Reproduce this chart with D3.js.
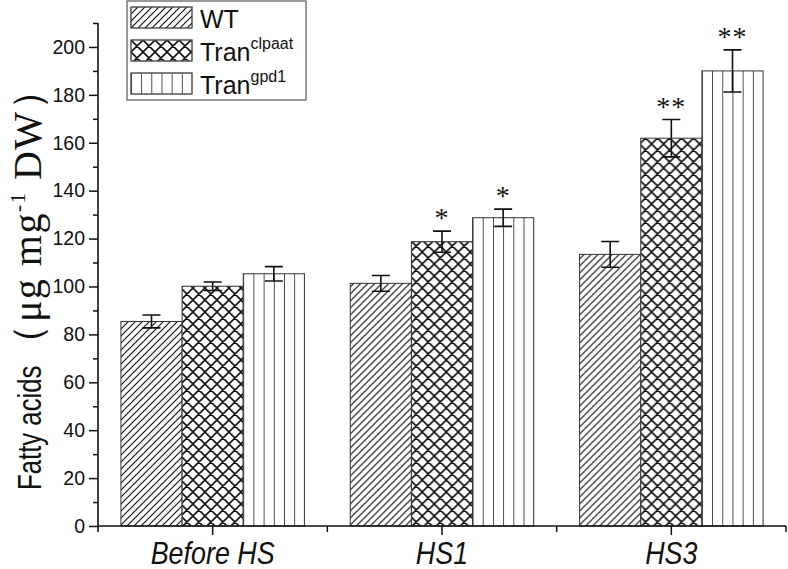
<!DOCTYPE html>
<html><head><meta charset="utf-8">
<script src="https://cdn.jsdelivr.net/npm/d3@7"></script>
<style>body{margin:0;background:#fff}svg{display:block}</style>
</head><body><svg id="c" width="788" height="569"></svg>
<script>
const categories = ["Before HS", "HS1", "HS3"];
const seriesKeys = ["WT", "clpaat", "gpd1"];
const seriesBase = ["WT", "Tran", "Tran"];
const seriesSup = ["", "clpaat", "gpd1"];
const wtValues = [85.4, 101.3, 113.4];
const clpaatValues = [100.1, 118.7, 161.9];
const gpd1Values = [105.3, 128.7, 190.0];
const wtErrors = [2.7, 3.3, 5.4];
const clpaatErrors = [1.8, 4.4, 7.8];
const gpd1Errors = [3.0, 3.6, 8.8];
const wtMarks = ["", "", ""];
const clpaatMarks = ["", "*", "**"];
const gpd1Marks = ["", "*", "**"];
const yTickValues = [0, 20, 40, 60, 80, 100, 120, 140, 160, 180, 200];
const yMinorTickValues = [10, 30, 50, 70, 90, 110, 130, 150, 170, 190, 210];
const yDomain = [0, 210];

const seriesValues = [wtValues, clpaatValues, gpd1Values];
const seriesErrors = [wtErrors, clpaatErrors, gpd1Errors];
const seriesMarks = [wtMarks, clpaatMarks, gpd1Marks];
const patternIds = ["p-diag", "p-cross", "p-vert"];

const svg = d3.select("#c");
const mLeft = 98, mRight = 786, mTop = 23, mBottom = 526;

const x0 = d3.scaleBand().domain(categories).range([mLeft, mRight]).paddingInner(0.2).paddingOuter(0.1);
const x1 = d3.scaleBand().domain(seriesKeys).range([0, x0.bandwidth()]);
const y = d3.scaleLinear().domain(yDomain).range([mBottom, mTop]);

// patterns
const defs = svg.append("defs");
const pd = defs.append("pattern").attr("id", "p-diag").attr("patternUnits", "userSpaceOnUse").attr("width", 7).attr("height", 7);
pd.append("path").attr("d", "M0,7 L7,0 M-1,1 L1,-1 M6,8 L8,6").attr("stroke", "#111").attr("stroke-width", 1.2);
const pc = defs.append("pattern").attr("id", "p-cross").attr("patternUnits", "userSpaceOnUse").attr("width", 12).attr("height", 12);
pc.append("path").attr("d", "M0,0 L12,12 M12,0 L0,12 M-1,1 L1,-1 M11,13 L13,11 M-1,11 L1,13 M11,-1 L13,1").attr("stroke", "#111").attr("stroke-width", 1.6);
const pv = defs.append("pattern").attr("id", "p-vert").attr("patternUnits", "objectBoundingBox").attr("width", 1/6).attr("height", 1).attr("patternContentUnits", "objectBoundingBox");
pv.append("rect").attr("x", 0).attr("y", 0).attr("width", 0.012).attr("height", 1).attr("fill", "#111");

// bars
const groups = svg.append("g").selectAll("g").data(categories).join("g")
  .attr("transform", c => `translate(${x0(c)},0)`);

seriesKeys.forEach((k, si) => {
  groups.append("rect")
    .attr("x", x1(k))
    .attr("y", (c, i) => y(seriesValues[si][i]))
    .attr("width", x1.bandwidth())
    .attr("height", (c, i) => y(0) - y(seriesValues[si][i]))
    .attr("fill", "#fff");
  groups.append("rect")
    .attr("x", x1(k))
    .attr("y", (c, i) => y(seriesValues[si][i]))
    .attr("width", x1.bandwidth())
    .attr("height", (c, i) => y(0) - y(seriesValues[si][i]))
    .attr("fill", `url(#${patternIds[si]})`)
    .attr("stroke", "#333").attr("stroke-width", 1);
});

// error bars and significance marks
const cap = 9;
seriesKeys.forEach((k, si) => {
  const cx = x1(k) + x1.bandwidth() / 2;
  groups.append("path")
    .attr("d", (c, i) => {
      const v = seriesValues[si][i], e = seriesErrors[si][i];
      const t = y(v + e), b = y(v - e);
      return `M${cx},${t}V${b}M${cx - cap},${t}H${cx + cap}M${cx - cap},${b}H${cx + cap}`;
    })
    .attr("stroke", "#111").attr("stroke-width", 1.6).attr("fill", "none");
  groups.append("text")
    .attr("x", cx)
    .attr("y", (c, i) => y(seriesValues[si][i] + seriesErrors[si][i]) - 4)
    .attr("text-anchor", "middle")
    .attr("font-family", "Liberation Serif, Times New Roman, serif")
    .attr("font-size", 28)
    .attr("letter-spacing", 1)
    .attr("fill", "#111")
    .text((c, i) => seriesMarks[si][i]);
});

// y axis
const yAxis = d3.axisLeft(y).tickValues(yTickValues).tickSize(9).tickPadding(4).tickSizeOuter(0);
const gy = svg.append("g").attr("transform", `translate(${mLeft},0)`).call(yAxis);
gy.select(".domain").remove();
gy.selectAll("line").attr("stroke", "#111").attr("stroke-width", 1.5);
gy.selectAll("text").attr("font-family", "Liberation Sans, Arial, sans-serif").attr("font-size", 19.5).attr("fill", "#111");
const gym = svg.append("g").attr("transform", `translate(${mLeft},0)`)
  .call(d3.axisLeft(y).tickValues(yMinorTickValues).tickSize(5).tickFormat(""));
gym.select(".domain").remove();
gym.selectAll("line").attr("stroke", "#111").attr("stroke-width", 1.5);
svg.append("line").attr("x1", mLeft).attr("x2", mLeft).attr("y1", y(yDomain[1])).attr("y2", y(0) + 6)
  .attr("stroke", "#111").attr("stroke-width", 1.6);

// x axis
const xAxis = d3.axisBottom(x0).tickSize(9).tickPadding(5).tickSizeOuter(0);
const gx = svg.append("g").attr("transform", `translate(0,${y(0)})`).call(xAxis);
gx.select(".domain").remove();
gx.selectAll("line").attr("stroke", "#111").attr("stroke-width", 1.5);
gx.selectAll("text").attr("font-family", "Liberation Sans, Arial, sans-serif").attr("font-size", 32)
  .attr("font-style", "italic").attr("fill", "#111").attr("dy", "0.75em")
  .attr("transform", "scale(0.84,1)");
const boundaries = categories.slice(1).map(c => x0(c) - x0.step() * x0.paddingInner() / 2).concat([mRight]);
svg.append("g").selectAll("line").data(boundaries).join("line")
  .attr("x1", d => d).attr("x2", d => d).attr("y1", y(0)).attr("y2", y(0) + 6)
  .attr("stroke", "#111").attr("stroke-width", 1.5);
svg.append("line").attr("x1", mLeft).attr("x2", mRight).attr("y1", y(0)).attr("y2", y(0))
  .attr("stroke", "#111").attr("stroke-width", 1.6);

// y title
const ytA = svg.append("text").attr("transform", `translate(41,490) rotate(-90) scale(0.78,1)`)
  .attr("text-anchor", "start").attr("fill", "#111")
  .attr("font-family", "Liberation Sans, Arial, sans-serif").attr("font-size", 33).text("Fatty acids");
const lenA = ytA.node().getComputedTextLength() * 0.78;
const yt = svg.append("text").attr("transform", `translate(41,${490 - lenA - 2}) rotate(-90)`)
  .attr("text-anchor", "start").attr("fill", "#111").attr("letter-spacing", 1.5)
  .attr("font-family", "Liberation Serif, Times New Roman, serif");
yt.append("tspan").attr("font-size", 40).text("（μg mg");
yt.append("tspan").attr("font-size", 21).attr("dy", -16).text("-1");
yt.append("tspan").attr("font-size", 40).attr("dy", 16).text(" DW）");

// legend
const lg = svg.append("g");
lg.append("rect").attr("x", 127).attr("y", 1).attr("width", 179).attr("height", 99)
  .attr("fill", "#fff").attr("stroke", "#555").attr("stroke-width", 1.2);
const items = lg.selectAll("g").data(seriesKeys).join("g")
  .attr("transform", (d, i) => `translate(131,${7 + i * 33})`);
items.append("rect").attr("width", 61).attr("height", 21).attr("fill", "#fff")
  .attr("stroke", "#555").attr("stroke-width", 1);
items.append("rect").attr("width", 61).attr("height", 21)
  .attr("fill", (d, i) => `url(#${patternIds[i]})`).attr("stroke", "#555").attr("stroke-width", 1);
const lt = items.append("text").attr("x", 69).attr("y", 21).attr("fill", "#111")
  .attr("font-family", "Liberation Sans, Arial, sans-serif").attr("font-size", 25);
lt.append("tspan").text((d, i) => seriesBase[i]);
lt.append("tspan").attr("font-size", 16).attr("dy", -12).text((d, i) => seriesSup[i]);
</script></body></html>
